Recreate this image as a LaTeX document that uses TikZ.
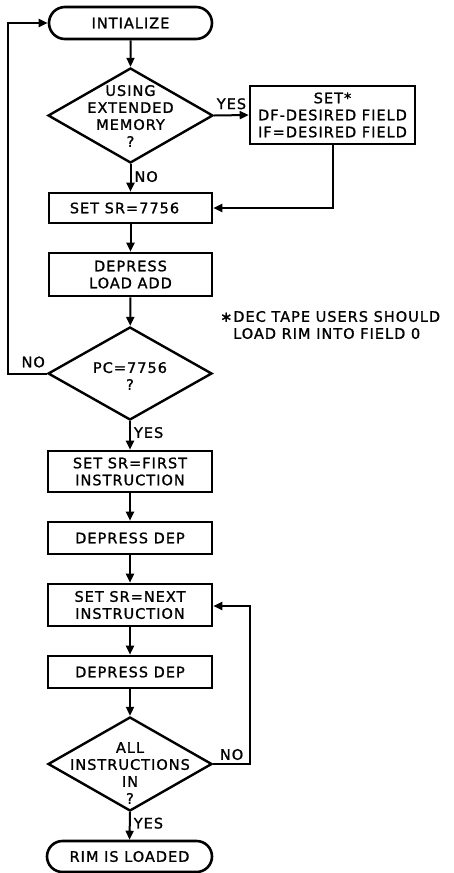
\documentclass[tikz,border=0pt]{standalone}
\usepackage{fontspec}
\setmainfont{DejaVu Sans}[LetterSpace=7,FakeBold=1.2]
\usetikzlibrary{shapes.geometric,shapes.misc,arrows.meta}
\begin{document}
\begin{tikzpicture}[x=1pt,y=-1pt,
  every node/.style={font=\fontsize{14.5}{17}\selectfont},
  proc/.style={draw, line width=2.6pt, rectangle, inner sep=0pt, align=center},
  term/.style={draw, line width=2.6pt, rounded rectangle, inner sep=0pt},
  dec/.style={draw, line width=2.4pt, diamond, inner sep=0pt},
  lbl/.style={inner sep=0pt, align=center},
  flow/.style={line width=2pt, -{Triangle[length=9pt,width=8pt]}},
  plain/.style={line width=2pt}]
\useasboundingbox (0,0) rectangle (453,873);

% nodes
\node[term, minimum width=163pt, minimum height=32pt] (init) at (130.5,23) {INTIALIZE};
\node[dec, minimum width=165pt, minimum height=95pt] (d1) at (130.5,115.5) {};
\node[lbl] (d1t) at (130.5,116) {USING\\EXTENDED\\MEMORY\\?};
\node[proc, minimum width=165pt, minimum height=58pt] (set1) at (332.5,115) {SET*\\DF-DESIRED FIELD\\IF=DESIRED FIELD};
\node[proc, minimum width=163pt, minimum height=30pt] (sr) at (130.5,208) {SET SR=7756\hspace*{12pt}};
\node[proc, minimum width=163pt, minimum height=43pt] (dla) at (130.5,274.5) {DEPRESS\\LOAD ADD};
\node[dec, minimum width=164pt, minimum height=93pt] (d2) at (130,373.5) {};
\node[lbl] (d2t) at (130,376) {PC=7756\\?};
\node[proc, minimum width=164pt, minimum height=41pt] (first) at (130,471.5) {SET SR=FIRST\\INSTRUCTION};
\node[proc, minimum width=164pt, minimum height=32pt] (dep1) at (130,538) {DEPRESS DEP};
\node[proc, minimum width=164pt, minimum height=42pt] (next) at (130,605) {SET SR=NEXT\\INSTRUCTION};
\node[proc, minimum width=164pt, minimum height=32pt] (dep2) at (130,672) {DEPRESS DEP};
\node[dec, minimum width=164pt, minimum height=94pt] (d3) at (130,764) {};
\node[lbl] (d3t) at (130,773) {ALL\\INSTRUCTIONS\\IN\\?};
\node[term, minimum width=165pt, minimum height=31pt] (rim) at (129.5,856.5) {RIM IS LOADED};

\node[lbl, anchor=west, align=left] (note) at (220,325) {∗DEC TAPE USERS SHOULD\\\hspace*{13pt}LOAD RIM INTO FIELD 0};

% coordinates
\coordinate (lx) at (8,373.5);
\coordinate (rx) at (250,764);

% connectors
\draw[flow] (init) -- (d1);
\draw[flow] (d1.east) -- node[lbl, above=5pt] (yes1) {YES} (set1.west);
\draw[flow] (d1.south) -- node[lbl, right=3pt, pos=0.45] (no1) {NO} (sr.north);
\draw[flow] (set1.south) |- (sr.east);
\draw[flow] (sr) -- (dla);
\draw[flow] (dla) -- (d2);
\draw[flow] (d2.west) -- node[lbl, above=5pt, pos=0.35] (no2) {NO} (lx) |- (init.west);
\draw[flow] (d2.south) -- node[lbl, right=3pt, pos=0.4] (yes2) {YES} (first.north);
\draw[flow] (first) -- (dep1);
\draw[flow] (dep1) -- (next);
\draw[flow] (next) -- (dep2);
\draw[flow] (dep2) -- (d3);
\draw[flow] (d3.east) -- node[lbl, above=3pt, pos=0.5] (no3) {NO} (rx) |- ([yshift=-1pt]next.east);
\draw[flow] (d3.south) -- node[lbl, right=3pt, pos=0.4] (yes3) {YES} (rim.north);
\end{tikzpicture}
\end{document}
